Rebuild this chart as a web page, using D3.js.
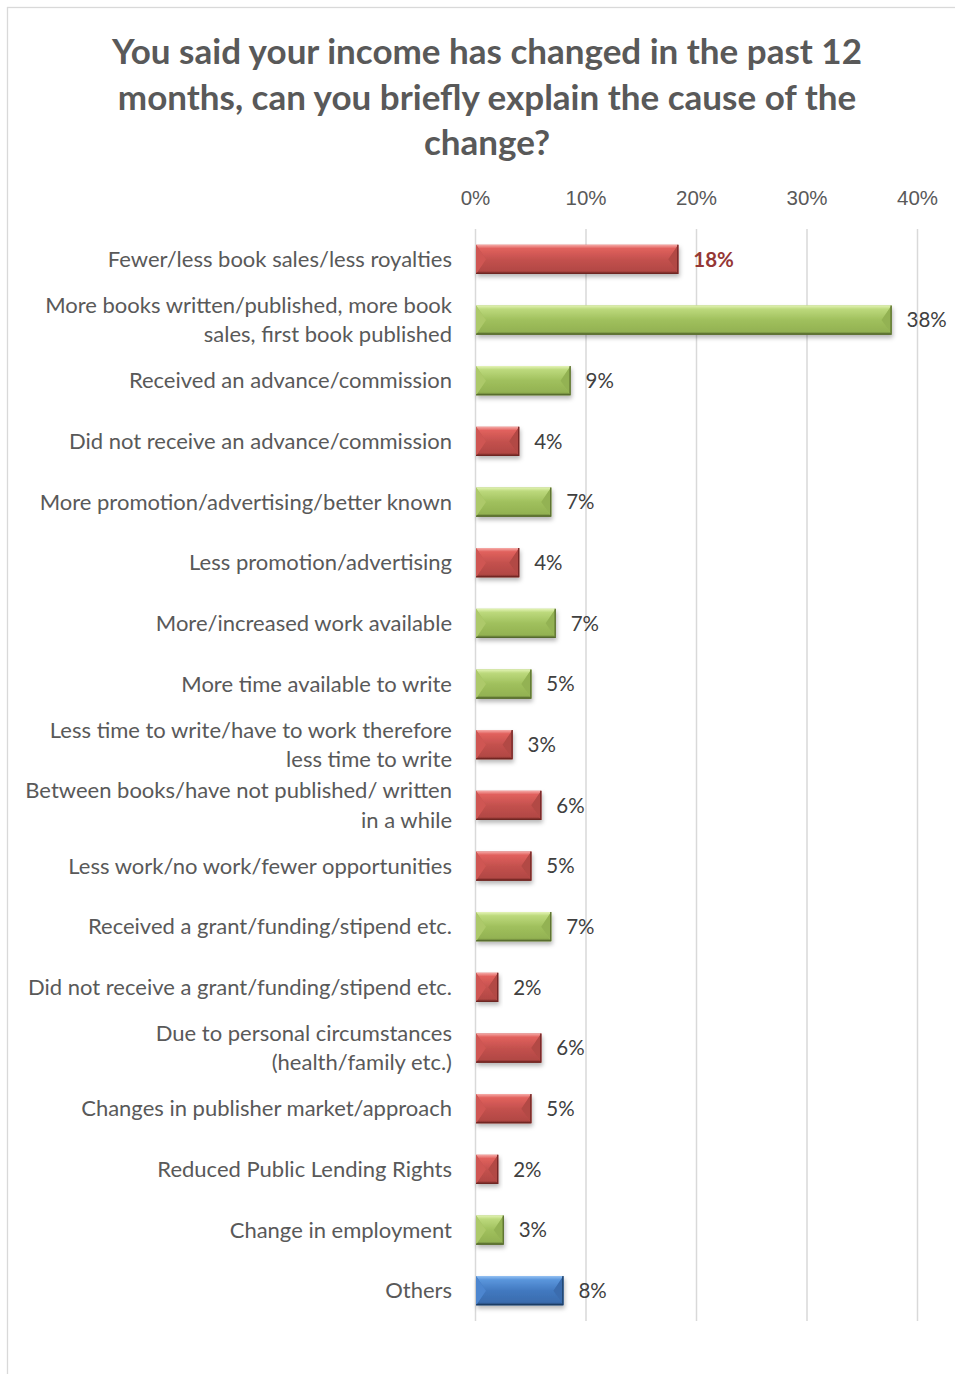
<!DOCTYPE html>
<html>
<head>
<meta charset="utf-8">
<script src="https://cdn.jsdelivr.net/npm/d3@7"></script>
<style>
  body { margin: 0; background: #fff; }
  svg { display: block; font-family: Lato, 'Open Sans', sans-serif; }
</style>
</head>
<body>
<svg id="chart"></svg>
<script>
'use strict';

var titleLines = [
  'You said your income has changed in the past 12',
  'months, can you briefly explain the cause of the',
  'change?'
]

var categories = [
  'Fewer/less book sales/less royalties',
  'More books written/published, more book sales, first book published',
  'Received an advance/commission',
  'Did not receive an advance/commission',
  'More promotion/advertising/better known',
  'Less promotion/advertising',
  'More/increased work available',
  'More time available to write',
  'Less time to write/have to work therefore less time to write',
  'Between books/have not published/ written in a while',
  'Less work/no work/fewer opportunities',
  'Received a grant/funding/stipend etc.',
  'Did not receive a grant/funding/stipend etc.',
  'Due to personal circumstances (health/family etc.)',
  'Changes in publisher market/approach',
  'Reduced Public Lending Rights',
  'Change in employment',
  'Others'
]

// percent of respondents
var values = [18.4, 37.7, 8.65, 4.0, 6.9, 4.0, 7.3, 5.1, 3.4, 6.0, 5.1, 6.9, 2.1, 6.0, 5.1, 2.1, 2.6, 8.0]

// direction of the change: neg = income down, pos = income up
var effects = ['neg', 'pos', 'pos', 'neg', 'pos', 'neg', 'pos', 'pos', 'neg',
  'neg', 'neg', 'pos', 'neg', 'neg', 'neg', 'neg', 'pos', 'other']

var tickValues = [0, 10, 20, 30, 40]
var highlighted = ['Fewer/less book sales/less royalties']

var width = 955,
  height = 1374,
  margin = { left: 475, right: 38, top: 229, bottom: 53 },
  labelSize = 22,
  numberSize = 20.5,
  lineGap = 29.5

var palette = {
  neg: { hi: '#f6aaa7', light: '#e1615d', base: '#c4514e', dark: '#b24844', side: '#cf5753', edge: '#6e2523' },
  pos: { hi: '#e3f3b5', light: '#bcd97c', base: '#a0c05d', dark: '#93b252', side: '#adc96a', edge: '#55692d' },
  other: { hi: '#93c0f2', light: '#5b96dc', base: '#4279c0', dark: '#3a6cae', side: '#4d86cf', edge: '#1c3a60' }
}

var svg = d3.select('#chart')
  .attr('width', width)
  .attr('height', height)

var defs = svg.append('defs')

var shadow = defs.append('filter')
  .attr('id', 'shadow')
  .attr('x', '-20%').attr('y', '-30%')
  .attr('width', '140%').attr('height', '180%')
shadow.append('feDropShadow')
  .attr('dx', 1).attr('dy', 3)
  .attr('stdDeviation', 2)
  .attr('flood-color', '#000')
  .attr('flood-opacity', 0.28)

Object.keys(palette).forEach(function(k) {
  var c = palette[k]
  var top = defs.append('linearGradient')
    .attr('id', 'top-' + k)
    .attr('x1', 0).attr('y1', 0).attr('x2', 0).attr('y2', 1)
  top.append('stop').attr('offset', '0%').attr('stop-color', c.hi)
  top.append('stop').attr('offset', '25%').attr('stop-color', c.light)
  top.append('stop').attr('offset', '100%').attr('stop-color', c.base)

  var bot = defs.append('linearGradient')
    .attr('id', 'bot-' + k)
    .attr('x1', 0).attr('y1', 0).attr('x2', 0).attr('y2', 1)
  bot.append('stop').attr('offset', '0%').attr('stop-color', c.base)
  bot.append('stop').attr('offset', '80%').attr('stop-color', c.dark)
  bot.append('stop').attr('offset', '100%').attr('stop-color', c.edge)
})

// chart area border (runs off the right and bottom of the picture)
svg.append('rect')
  .attr('x', 7.5).attr('y', 7.5)
  .attr('width', width + 20).attr('height', height + 20)
  .attr('fill', 'none')
  .attr('stroke', '#d9d9d9')
  .attr('stroke-width', 1.3)

svg.append('g')
  .selectAll('text')
  .data(titleLines)
  .enter().append('text')
  .attr('x', 487)
  .attr('y', function(d, i) { return 64 + i * 45.5 })
  .attr('text-anchor', 'middle')
  .attr('font-size', 35)
  .attr('font-weight', 700)
  .attr('fill', '#595959')
  .text(function(d) { return d })

var x = d3.scaleLinear()
  .domain([0, 40])
  .range([margin.left, width - margin.right])

var y = d3.scaleBand()
  .domain(categories)
  .range([margin.top, height - margin.bottom])
  .paddingInner(0.52)
  .paddingOuter(0.26)

var drawHeight = height - margin.bottom - margin.top

// gridlines
var grid = svg.append('g')
  .attr('transform', 'translate(0,' + margin.top + ')')
  .call(d3.axisBottom(x).tickValues(tickValues).tickSize(drawHeight).tickFormat(''))
grid.select('.domain').remove()
grid.selectAll('line')
  .attr('stroke', '#d9d9d9')
  .attr('stroke-width', 1.5)

// tick labels along the top
var xAxis = svg.append('g')
  .attr('transform', 'translate(0,' + (margin.top - 21) + ')')
  .call(d3.axisTop(x).tickValues(tickValues).tickSize(0).tickFormat(function(d) { return d + '%' }))
xAxis.select('.domain').remove()
xAxis.selectAll('text')
  .attr('font-family', null)
  .attr('font-size', numberSize)
  .attr('fill', '#595959')
  .attr('dy', 0)

// category labels, wrapped
var measure = svg.append('text').attr('font-size', labelSize).attr('visibility', 'hidden')
function wrap(str, maxW) {
  var words = str.split(' '), lines = [], line = ''
  words.forEach(function(w) {
    var test = line ? line + ' ' + w : w
    measure.text(test)
    if (line && measure.node().getComputedTextLength() > maxW) {
      lines.push(line)
      line = w
    } else {
      line = test
    }
  })
  lines.push(line)
  return lines
}

var labels = svg.append('g')
  .selectAll('text')
  .data(categories)
  .enter().append('text')
  .attr('text-anchor', 'end')
  .attr('font-size', labelSize)
  .attr('fill', '#595959')
  .attr('transform', function(d) {
    return 'translate(452,' + (y(d) + y.bandwidth() / 2) + ')'
  })

labels.each(function(d) {
  var lines = wrap(d, 431)
  var t = d3.select(this)
  lines.forEach(function(l, i) {
    t.append('tspan')
      .attr('x', 0)
      .attr('y', (i - (lines.length - 1) / 2) * lineGap)
      .attr('dy', '0.35em')
      .text(l)
  })
})
measure.remove()

// bevelled bars
var rows = categories.map(function(c, i) {
  return { cat: c, value: values[i], effect: effects[i] }
})

var bars = svg.append('g')
  .selectAll('g')
  .data(rows)
  .enter().append('g')
  .attr('transform', function(d) { return 'translate(' + (x(0) + 1) + ',' + y(d.cat) + ')' })
  .attr('filter', 'url(#shadow)')

bars.each(function(d) {
  var g = d3.select(this)
  var w = x(d.value) - x(0) - 1
  var h = y.bandwidth()
  var b = Math.min(10, w / 2)
  var c = palette[d.effect]
  var pt = function(p) { return p.join(',') }

  g.append('rect')
    .attr('width', w).attr('height', h)
    .attr('fill', c.base)
  g.append('polygon')
    .attr('points', [[0, 0], [w, 0], [w - b, h / 2], [b, h / 2]].map(pt).join(' '))
    .attr('fill', 'url(#top-' + d.effect + ')')
  g.append('polygon')
    .attr('points', [[b, h / 2], [w - b, h / 2], [w, h], [0, h]].map(pt).join(' '))
    .attr('fill', 'url(#bot-' + d.effect + ')')
  g.append('polygon')
    .attr('points', [[0, 0], [b, h / 2], [0, h]].map(pt).join(' '))
    .attr('fill', c.side)
  g.append('polygon')
    .attr('points', [[w, 0], [w - b, h / 2], [w, h]].map(pt).join(' '))
    .attr('fill', c.dark)
  // darker edge on the bottom and right
  g.append('path')
    .attr('d', 'M0,' + (h - 0.5) + 'H' + (w - 0.5) + 'V0')
    .attr('fill', 'none')
    .attr('stroke', c.edge)
    .attr('stroke-width', 1.2)
})

// value labels
var fmt = d3.format('.0f')
svg.append('g')
  .selectAll('text')
  .data(rows)
  .enter().append('text')
  .attr('x', function(d) { return x(d.value) + 15 })
  .attr('y', function(d) { return y(d.cat) + y.bandwidth() / 2 })
  .attr('dy', '0.35em')
  .attr('font-size', numberSize)
  .attr('font-weight', function(d) { return highlighted.indexOf(d.cat) >= 0 ? 700 : 400 })
  .attr('fill', function(d) { return highlighted.indexOf(d.cat) >= 0 ? '#953735' : '#404040' })
  .text(function(d) { return fmt(d.value) + '%' })
</script>
</body>
</html>
